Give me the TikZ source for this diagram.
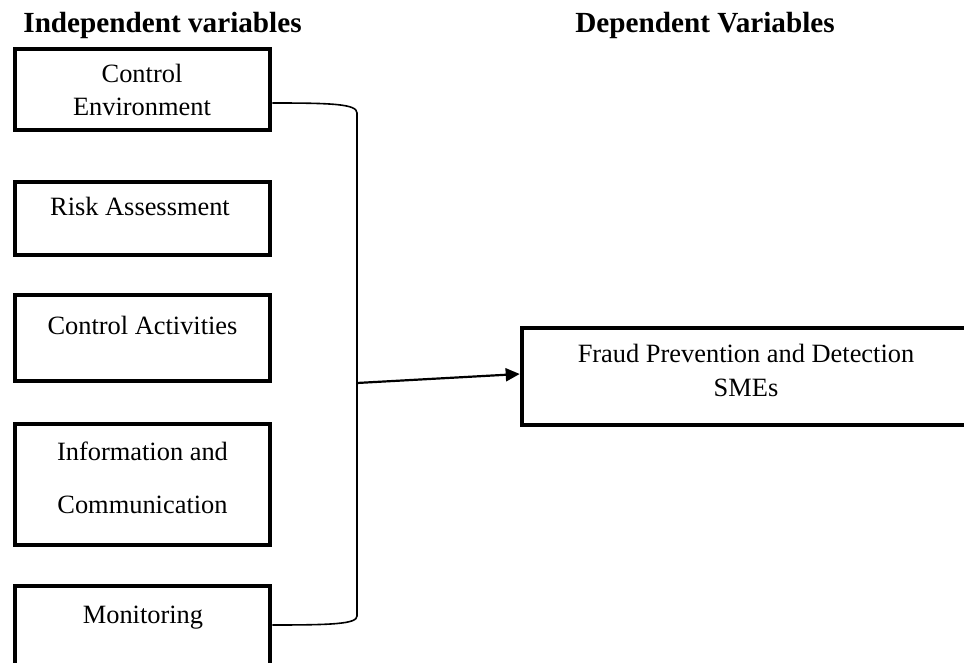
\documentclass[tikz,border=0pt]{standalone}
\usepackage{fontspec}
\setmainfont{Liberation Serif}
\usetikzlibrary{arrows.meta}
\begin{document}
\begin{tikzpicture}[x=0.5pt,y=-0.5pt,
  box/.style={draw, line width=2.3pt, inner sep=0pt, minimum width=127.5pt},
  txt/.style={font=\fontsize{13.2}{16.5}\selectfont, inner sep=0pt, align=center},
  ttl/.style={font=\fontsize{14.6}{17}\selectfont\bfseries, inner sep=0pt, anchor=base west},
  conn/.style={line width=0.8pt},
  arr/.style={line width=1.1pt, -{Triangle[length=7pt,width=6.5pt]}}
]
\useasboundingbox (0,0) rectangle (964,663);
\clip (0,0) rectangle (964,663);
\node[ttl] (t1) at (23,33) {Independent variables};
\node[ttl] (t2) at (575,33) {Dependent Variables};
\node[box, minimum height=40.5pt] (b1) at (142.5,89.5) {};
\node[box, minimum height=36.5pt] (b2) at (142.5,218.5) {};
\node[box, minimum height=43pt] (b3) at (142.5,338) {};
\node[box, minimum height=60.5pt] (b4) at (142.5,484.5) {};
\node[box, minimum height=42pt] (b5) at (142.5,628) {};
\node[box, minimum width=226.5pt, minimum height=48.5pt] (f) at (748.5,376.5) {};
\node[txt, anchor=north] (l1) at (142,64) {Control\\Environment};
\node[txt, anchor=base] (l2) at (140,216) {Risk Assessment};
\node[txt, anchor=base] (l3) at (142.5,335) {Control Activities};
\node[txt, anchor=north] (l4) at (142.5,442) {Information and\\[10pt]Communication};
\node[txt, anchor=base] (l5) at (143,623) {Monitoring};
\node[txt, anchor=north] (l6) at (746,344) {Fraud Prevention and Detection\\[0.5pt]SMEs};
\coordinate (j) at (357,383);
\draw[conn] ([yshift=-6.75pt]b1.east) .. controls +(60,0) and (357,104) .. (357,113)
  -- (357,616) .. controls (357,624) and +(60,0) .. ([yshift=1.5pt]b5.east);
\draw[arr] (j) -- ([yshift=1.25pt]f.west);
\end{tikzpicture}
\end{document}
